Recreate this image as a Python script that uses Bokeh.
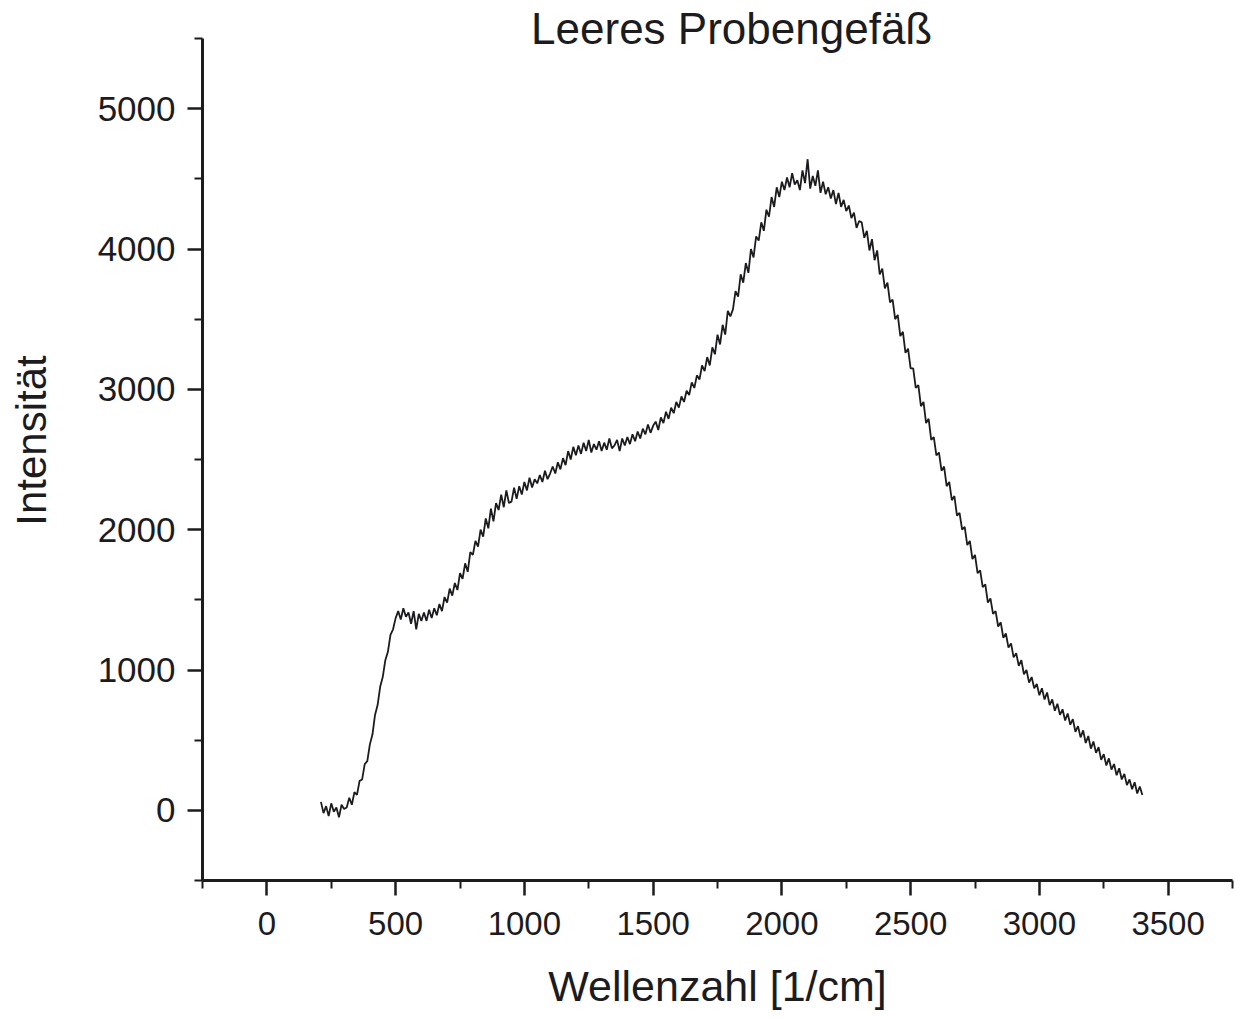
from bokeh.plotting import figure
from bokeh.models import Label, FixedTicker, Range1d
from bokeh.embed import file_html
from bokeh.resources import INLINE

title_text = "Leeres Probengefäß"
x_label = "Wellenzahl [1/cm]"
y_label = "Intensität"

x_major = [0, 500, 1000, 1500, 2000, 2500, 3000, 3500]
x_minor = [-250, 250, 750, 1250, 1750, 2250, 2750, 3250, 3750]
y_major = [0, 1000, 2000, 3000, 4000, 5000]
y_minor = [-500, 500, 1500, 2500, 3500, 4500, 5500]
y_axis_bounds = (-500, 5500)

# wavenumber grid (1/cm), 10 cm^-1 steps from 210 to 3400
wavenumber = list(range(210, 3410, 10))

# intensity (including visible noise)
intensity = [
    60, -20, 30, -40, 50, -10, 20, -50, 40, 10,
    20, 90, 40, 130, 110, 210, 220, 330, 350, 470,
    540, 680, 750, 880, 950, 1070, 1130, 1250, 1290, 1370,
    1420, 1360, 1440, 1380, 1410, 1330, 1420, 1290, 1400, 1350,
    1410, 1350, 1430, 1370, 1440, 1390, 1470, 1420, 1520, 1480,
    1580, 1530, 1620, 1570, 1690, 1650, 1760, 1700, 1840, 1820,
    1920, 1880, 2000, 1950, 2080, 2010, 2150, 2060, 2190, 2140,
    2250, 2160, 2280, 2190, 2200, 2300, 2220, 2310, 2250, 2340,
    2280, 2370, 2300, 2360, 2330, 2390, 2340, 2420, 2360, 2400,
    2450, 2400, 2480, 2430, 2510, 2460, 2560, 2500, 2590, 2530,
    2600, 2540, 2620, 2560, 2640, 2550, 2610, 2570, 2630, 2560,
    2620, 2570, 2650, 2580, 2600, 2640, 2560, 2650, 2600, 2660,
    2610, 2680, 2630, 2700, 2650, 2720, 2680, 2750, 2690, 2740,
    2770, 2710, 2800, 2760, 2840, 2790, 2870, 2830, 2910, 2870,
    2950, 2910, 2990, 2960, 3050, 3010, 3100, 3070, 3170, 3130,
    3230, 3170, 3300, 3250, 3390, 3320, 3460, 3390, 3560, 3520,
    3570, 3700, 3660, 3820, 3760, 3900, 3830, 4000, 3940, 4090,
    4060, 4190, 4130, 4280, 4230, 4370, 4300, 4440, 4370, 4480,
    4420, 4510, 4440, 4540, 4460, 4490, 4420, 4560, 4470, 4640,
    4430, 4520, 4450, 4560, 4400, 4480, 4390, 4440, 4360, 4420,
    4320, 4400, 4300, 4350, 4270, 4310, 4220, 4260, 4150, 4200,
    4190, 4080, 4130, 3990, 4070, 3920, 3990, 3820, 3860, 3720,
    3760, 3620, 3640, 3500, 3530, 3380, 3410, 3260, 3290, 3150,
    3150, 3010, 3030, 2880, 2910, 2760, 2790, 2640, 2660, 2530,
    2550, 2420, 2450, 2310, 2340, 2210, 2240, 2100, 2120, 2000,
    2020, 1890, 1920, 1790, 1820, 1690, 1710, 1590, 1610, 1480,
    1510, 1400, 1420, 1310, 1340, 1230, 1260, 1160, 1190, 1090,
    1120, 1030, 1070, 970, 1000, 910, 950, 870, 900, 820,
    870, 790, 840, 750, 790, 710, 760, 680, 720, 640,
    690, 610, 650, 560, 600, 520, 570, 480, 530, 440,
    490, 410, 450, 360, 400, 320, 370, 290, 330, 250,
    300, 220, 260, 180, 220, 150, 200, 120, 170, 110,
]
n = min(len(wavenumber), len(intensity))
wavenumber = wavenumber[:n]
intensity = intensity[:n]

FONT = "Liberation Sans"
INK = "#1c1c1e"

p = figure(width=1235, height=1018, output_backend="svg", toolbar_location=None,
           x_range=Range1d(-250, 3750), y_range=Range1d(-500, 5771),
           min_border_left=202, min_border_right=3, min_border_top=0, min_border_bottom=138)
p.outline_line_color = None
p.xgrid.grid_line_color = None
p.ygrid.grid_line_color = None
p.background_fill_color = "white"
p.border_fill_color = "white"

p.line(wavenumber, intensity, line_color=INK, line_width=1.8)

for ax in (p.xaxis[0], p.yaxis[0]):
    ax.axis_line_width = 3
    ax.axis_line_color = INK
    ax.major_tick_line_color = INK
    ax.minor_tick_line_color = INK
    ax.major_tick_line_width = 2.5
    ax.minor_tick_line_width = 2
    ax.major_tick_in = 0
    ax.major_tick_out = 15
    ax.minor_tick_in = 0
    ax.minor_tick_out = 8
    ax.major_label_text_font = FONT
    ax.major_label_text_color = INK
    ax.axis_label_text_font = FONT
    ax.axis_label_text_color = INK
    ax.axis_label_text_font_style = "normal"
    ax.major_label_standoff = 12

p.yaxis[0].bounds = y_axis_bounds
p.xaxis[0].ticker = FixedTicker(ticks=x_major, minor_ticks=x_minor)
p.yaxis[0].ticker = FixedTicker(ticks=y_major, minor_ticks=y_minor)
p.xaxis[0].major_label_text_font_size = "33px"
p.yaxis[0].major_label_text_font_size = "35px"
p.xaxis[0].major_label_standoff = 16
p.xaxis[0].axis_label = x_label
p.yaxis[0].axis_label = y_label
p.xaxis[0].axis_label_text_font_size = "43px"
p.yaxis[0].axis_label_text_font_size = "42px"
p.xaxis[0].axis_label_standoff = 24
p.yaxis[0].axis_label_standoff = 40

p.add_layout(Label(x=1805, y=5570, text=title_text, text_align="center",
                   text_baseline="alphabetic", text_font=FONT,
                   text_font_size="44px", text_color=INK))

open("out.html", "w").write(file_html(p, INLINE))
